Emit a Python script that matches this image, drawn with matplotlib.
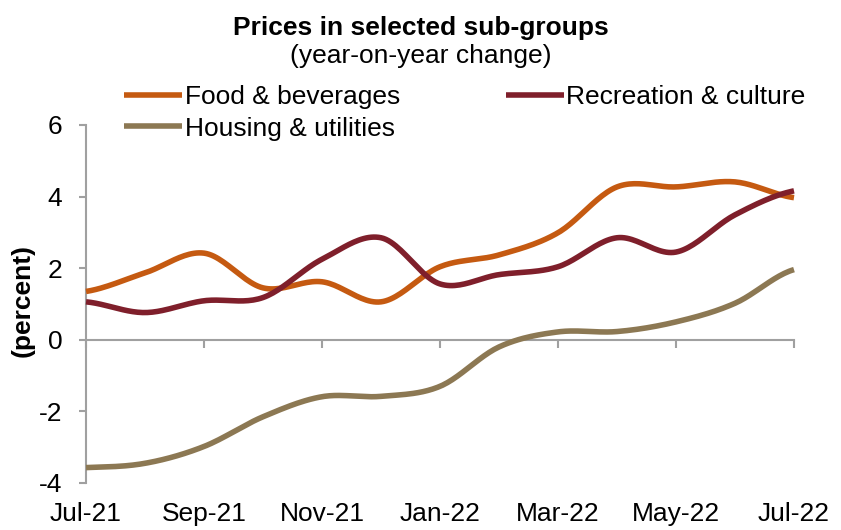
import numpy as np
import matplotlib.pyplot as plt

plt.rcParams['font.family'] = ['Liberation Sans', 'DejaVu Sans']
plt.rcParams['axes.unicode_minus'] = False

# monthly observations, Jul-21 .. Jul-22
months = ['Jul-21', 'Aug-21', 'Sep-21', 'Oct-21', 'Nov-21', 'Dec-21', 'Jan-22',
          'Feb-22', 'Mar-22', 'Apr-22', 'May-22', 'Jun-22', 'Jul-22']
food = [1.35, 1.87, 2.42, 1.45, 1.62, 1.06, 2.04, 2.37, 2.99, 4.27, 4.27, 4.41, 3.97]
recreation = [1.06, 0.76, 1.09, 1.18, 2.25, 2.85, 1.56, 1.82, 2.04, 2.85, 2.45, 3.49, 4.16]
housing = [-3.57, -3.45, -2.98, -2.15, -1.59, -1.58, -1.30, -0.20, 0.22, 0.23, 0.50, 1.02, 1.96]

labels = ['Food & beverages', 'Recreation & culture', 'Housing & utilities']
colors = ['#C55A11', '#7F1F2B', '#8C7853']


def smooth(y, steps=24):
    # Catmull-Rom curve through the monthly points
    y = np.asarray(y, dtype=float)
    p = np.concatenate([[y[0]], y, [y[-1]]])
    xs, ys = [], []
    for i in range(len(y) - 1):
        p0, p1, p2, p3 = p[i], p[i + 1], p[i + 2], p[i + 3]
        t = np.linspace(0, 1, steps, endpoint=False)
        v = 0.5 * ((2 * p1) + (-p0 + p2) * t + (2 * p0 - 5 * p1 + 4 * p2 - p3) * t ** 2
                   + (-p0 + 3 * p1 - 3 * p2 + p3) * t ** 3)
        xs.append(i + t)
        ys.append(v)
    xs.append([len(y) - 1])
    ys.append([y[-1]])
    return np.concatenate(xs), np.concatenate(ys)


fig = plt.figure(figsize=(8.41, 5.30), dpi=100)
ax = fig.add_axes([0.1023, 0.0887, 0.8418, 0.6755])

lines = {}
for name, vals, c in zip(labels, [food, recreation, housing], colors):
    xs, ys = smooth(vals)
    lines[name], = ax.plot(xs, ys, color=c, lw=4, solid_capstyle='butt',
                           label=name, clip_on=False, zorder=3)

ax.set_xlim(0, len(months) - 1)
ax.set_ylim(-4, 6)
ax.set_yticks([-4, -2, 0, 2, 4, 6])

grey = '#A0A0A0'
for s in ['top', 'right']:
    ax.spines[s].set_visible(False)
ax.spines['left'].set_color(grey)
ax.spines['left'].set_linewidth(1.5)
ax.spines['bottom'].set_position(('data', 0))
ax.spines['bottom'].set_color(grey)
ax.spines['bottom'].set_linewidth(1.5)

ticks = list(range(0, len(months), 2))
ax.set_xticks(ticks)
ax.tick_params(axis='x', direction='out', length=6, width=1.5, color=grey,
               labelbottom=False)
ax.tick_params(axis='y', direction='out', length=5, width=1.5, color=grey,
               labelsize=19, pad=12)

# month labels sit under the plot area, not on the zero line
sec = ax.secondary_xaxis('bottom')
sec.set_xticks(ticks)
sec.set_xticklabels([months[i] for i in ticks])
sec.tick_params(length=0, labelsize=19, pad=14)
sec.spines['bottom'].set_visible(False)

ax.set_ylabel('(percent)', fontsize=19, fontweight='bold')
ax.yaxis.set_label_coords(-0.072, 0.51)

fig.text(0.5, 0.948, 'Prices in selected sub-groups', ha='center', va='center',
         fontsize=19, fontweight='bold')
fig.text(0.5, 0.894, '(year-on-year change)', ha='center', va='center', fontsize=19)

order = ['Food & beverages', 'Housing & utilities', 'Recreation & culture']
fig.legend([lines[n] for n in order], order, ncol=2, frameon=False,
           loc='upper left', bbox_to_anchor=(0.135, 0.86), fontsize=19,
           handlelength=2.2, handletextpad=0.1, columnspacing=4.0,
           labelspacing=0.3, borderaxespad=0)

fig.savefig('out.png', dpi=100)
